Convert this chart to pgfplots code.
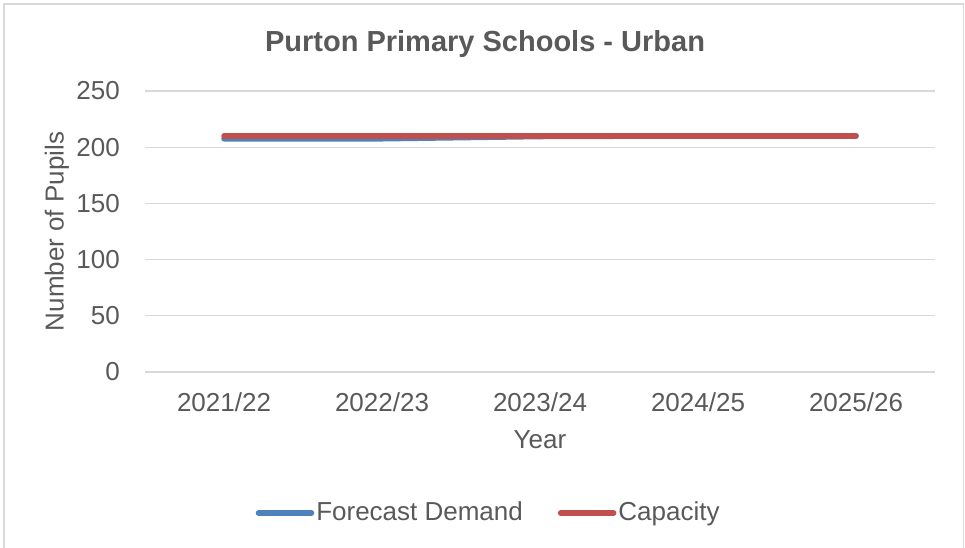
\documentclass[border=0pt]{standalone}
\usepackage{fontspec}
\setmainfont{Liberation Sans}
\usepackage{pgfplots}
\pgfplotsset{compat=1.18}
\definecolor{txt}{RGB}{89,89,89}
\definecolor{gridc}{RGB}{217,217,217}
\definecolor{fblue}{RGB}{79,129,189}
\definecolor{cred}{RGB}{192,80,77}
\begin{document}
\begin{tikzpicture}[x=1bp,y=1bp]
\useasboundingbox (0,0) rectangle (965,548);
\draw[gridc, line width=1.5bp] (4,0) -- (4,544) -- (963.5,544) -- (963.5,0);
\begin{axis}[
 at={(145bp,176bp)}, anchor=south west,
 width=790bp, height=281bp, scale only axis,
 xmin=-0.5, xmax=4.5, ymin=0, ymax=250,
 xtick={0,1,2,3,4}, xticklabels={2021/22,2022/23,2023/24,2024/25,2025/26},
 ytick={0,50,100,150,200,250},
 axis line style={draw=none},
 major tick length=0pt,
 ymajorgrids, grid style={gridc, line width=1.2bp},
 /pgf/number format/assume math mode=true,
 ticklabel style={font=\fontsize{26bp}{30bp}\selectfont, text=txt},
 yticklabel style={anchor=east, inner sep=0pt, xshift=-25bp},
 xticklabel style={anchor=base, inner sep=0pt, yshift=-40bp},
 xlabel={Year},
 xlabel style={at={(axis description cs:0.5,-0.2705)}, anchor=base, inner sep=0pt, font=\fontsize{26bp}{30bp}\selectfont, text=txt},
 ylabel={Number of Pupils},
 ylabel style={at={(axis description cs:-0.1114,0.5)}, anchor=center, inner sep=0pt, font=\fontsize{26bp}{30bp}\selectfont, text=txt},
 title={Purton Primary Schools - Urban},
 title style={at={(axis description cs:0.4304,1.1210)}, anchor=base, yshift=0pt, inner sep=0pt, font=\bfseries\fontsize{29bp}{34bp}\selectfont, text=txt},
 legend style={at={(axis description cs:0.435,-0.498)}, anchor=center, draw=none, fill=none,
   font=\fontsize{26bp}{30bp}\selectfont, text=txt, legend columns=2,
   nodes={inner sep=2bp},
   /tikz/every even column/.append style={column sep=33bp}},
 legend image code/.code={\draw[#1, line cap=round] (0bp,-1bp) -- (53bp,-1bp);},
]
\addplot[fblue, line width=5.5bp, line cap=round, line join=round] coordinates {(0,207.5) (1,207.5) (2,209.5) (3,210) (4,210)};
\addplot[cred, line width=5.5bp, line cap=round, line join=round] coordinates {(0,210) (1,210) (2,210) (3,210) (4,210)};
\legend{Forecast Demand, Capacity}
\end{axis}
\end{tikzpicture}
\end{document}
